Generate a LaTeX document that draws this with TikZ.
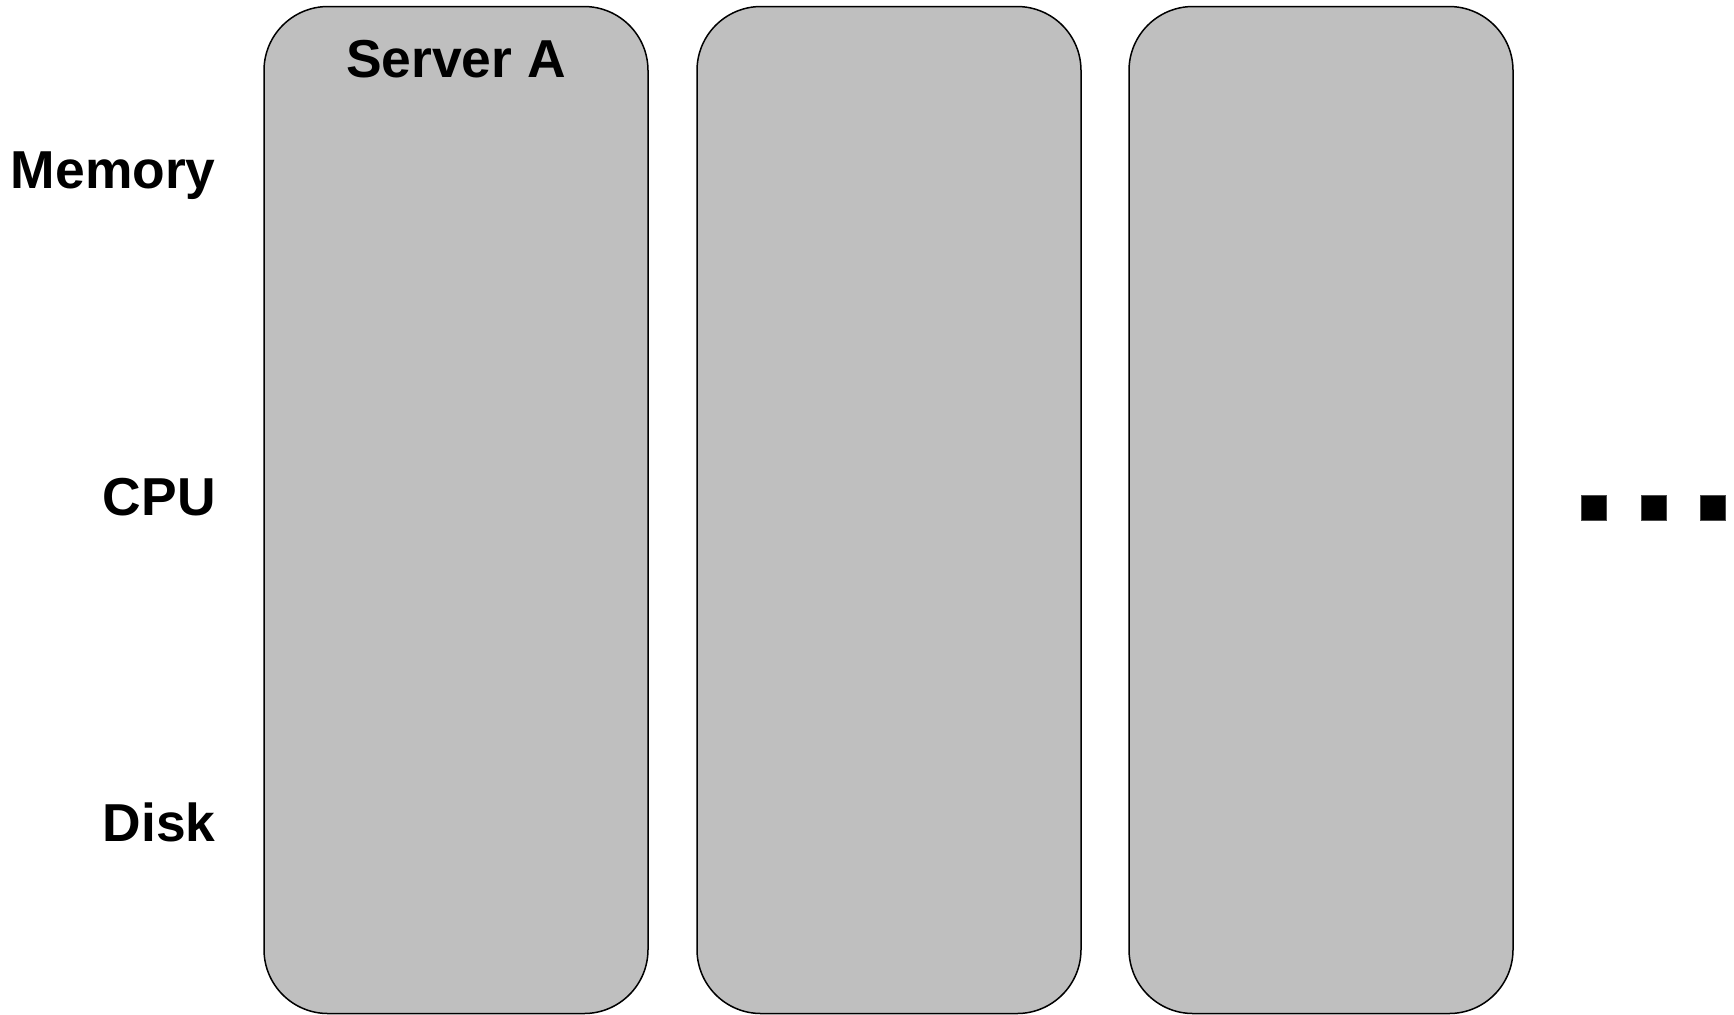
\documentclass[tikz,border=0pt]{standalone}
\usepackage{fontspec}
\setmainfont{Liberation Sans}
\begin{document}
\begin{tikzpicture}[x=0.5pt,y=-0.5pt,
  srv/.style={draw=black,line width=0.75pt,fill={rgb,255:red,191;green,191;blue,191},rounded corners=32pt,minimum width=192pt,minimum height=503.5pt,inner sep=0pt},
  lbl/.style={inner sep=0pt,font=\fontsize{26.7}{31}\selectfont\bfseries},
  dotsq/.style={fill=black,draw=black!70,line width=0.3pt,minimum size=12.5pt,inner sep=0pt}]
\useasboundingbox (0,0) rectangle (1734,1014);
\node[srv] (s1) at (456,510) {};
\node[srv] (s2) at (889,510) {};
\node[srv] (s3) at (1321,510) {};
\node[lbl,anchor=base] (title) at (456,77) {Server A};
\node[lbl,anchor=base east] (mem) at (216,188) {Memory};
\node[lbl,anchor=base east] (cpu) at (216,515) {CPU};
\node[lbl,anchor=base east] (disk) at (216,841) {Disk};
\node[dotsq] (d1) at (1593.5,508) {};
\node[dotsq] (d2) at (1653.5,508) {};
\node[dotsq] (d3) at (1712.5,508) {};
\end{tikzpicture}
\end{document}
